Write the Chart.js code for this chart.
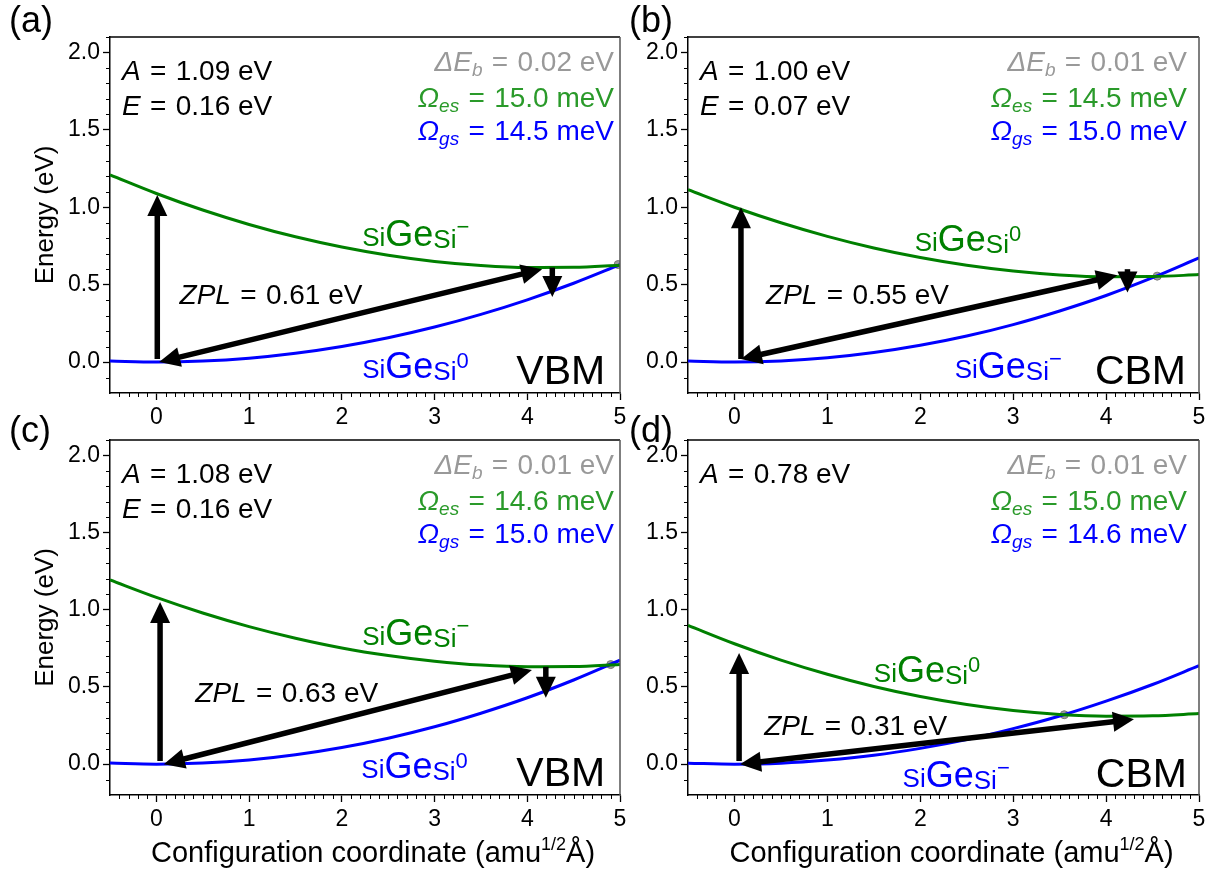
<!DOCTYPE html>
<html>
<head>
<meta charset="utf-8">
<script src="https://cdn.jsdelivr.net/npm/chart.js@4.4.0/dist/chart.umd.min.js"></script>
<style>
  html, body { margin: 0; padding: 0; background: #fff; }
  body { width: 1214px; height: 874px; position: relative; overflow: hidden; }
  canvas { position: absolute; }
</style>
</head>
<body>
<script>
const FONT = '"Liberation Sans", Arial, Helvetica, sans-serif';
const GREEN = '#008000';
const BLUE = '#0000ff';
const TGREEN = '#2a9a2a';
const GREY = '#999999';
const EQ = '\u2004=\u2004';

// configuration coordinate (amu^1/2 Å) where the curves are sampled
const q = [-0.5, 0, 0.5, 1, 1.5, 2, 2.5, 3, 3.5, 4, 4.5, 5];

// energies (eV): gs = blue curve, es = green curve
const gsA = [0.006, 0.000, 0.006, 0.025, 0.057, 0.101, 0.157, 0.226, 0.308, 0.402, 0.509, 0.629];
const esA = [1.209, 1.089, 0.982, 0.889, 0.809, 0.743, 0.690, 0.650, 0.624, 0.611, 0.612, 0.626];
const gsB = [0.007, 0.000, 0.007, 0.027, 0.061, 0.108, 0.168, 0.242, 0.330, 0.430, 0.545, 0.673];
const esB = [1.113, 1.000, 0.900, 0.812, 0.737, 0.675, 0.625, 0.588, 0.563, 0.551, 0.552, 0.565];
const gsC = [0.007, 0.000, 0.007, 0.027, 0.061, 0.108, 0.168, 0.242, 0.330, 0.430, 0.545, 0.673];
const esC = [1.193, 1.080, 0.979, 0.891, 0.816, 0.753, 0.704, 0.667, 0.642, 0.631, 0.632, 0.646];
const gsD = [0.006, 0.000, 0.006, 0.026, 0.057, 0.102, 0.159, 0.230, 0.312, 0.408, 0.516, 0.638];
const esD = [0.899, 0.780, 0.674, 0.582, 0.503, 0.438, 0.386, 0.347, 0.322, 0.311, 0.313, 0.328];

// crossing points [Q, E]
const crossA = [4.98, 0.630];
const crossB = [4.55, 0.555];
const crossC = [4.90, 0.645];
const crossD = [3.55, 0.320];

// arrows: [Q1, E1, Q2, E2, head at start, head at end]
const arrowsA = [[0.01, 0.02, 0.01, 1.08, 0, 1], [0.03, 0.00, 4.16, 0.60, 1, 1], [4.27, 0.61, 4.27, 0.42, 0, 1]];
const arrowsB = [[0.07, 0.02, 0.07, 1.00, 0, 1], [0.07, 0.02, 4.12, 0.56, 1, 1], [4.23, 0.60, 4.23, 0.45, 0, 1]];
const arrowsC = [[0.04, 0.02, 0.04, 1.05, 0, 1], [0.08, 0.00, 4.05, 0.61, 1, 1], [4.20, 0.63, 4.20, 0.43, 0, 1]];
const arrowsD = [[0.05, 0.02, 0.05, 0.72, 0, 1], [0.06, 0.00, 4.30, 0.29, 1, 1]];

// text values
const panelNames = ['(a)', '(b)', '(c)', '(d)'];
const aVals = ['1.09', '1.00', '1.08', '0.78'];
const eVals = ['0.16', '0.07', '0.16', null];
const dEbVals = ['0.02', '0.01', '0.01', '0.01'];
const wEsVals = ['15.0', '14.5', '14.6', '15.0'];
const wGsVals = ['14.5', '15.0', '15.0', '14.6'];
const zplVals = ['0.61', '0.55', '0.63', '0.31'];
const bandEdge = ['VBM', 'CBM', 'VBM', 'CBM'];
const esCharge = ['\u2212', '0', '\u2212', '0'];
const gsCharge = ['0', '\u2212', '0', '\u2212'];

// tick labels
const xTicks = [0, 1, 2, 3, 4, 5];
const yTicks = [0, 0.5, 1, 1.5, 2];

// layout of the four panels (page pixels) and label anchors (data coords)
const layout = [
  { cv: { x: 0, y: 0, w: 640, h: 437 }, pad: { top: 37, right: 20 }, yW: 110, xH: 44, showY: true, showX: false,
    name: [9, 32], rOff: 6, esLab: [2.22, 0.75], gsLab: [2.22, -0.10], band: [4.84, -0.14], zpl: [0.25, 0.377] },
  { cv: { x: 630, y: 0, w: 584, h: 437 }, pad: { top: 37, right: 15 }, yW: 58, xH: 44, showY: false, showX: false,
    name: [629, 32], rOff: 12, esLab: [1.94, 0.72], gsLab: [2.37, -0.10], band: [4.86, -0.14], zpl: [0.34, 0.377] },
  { cv: { x: 0, y: 410, w: 640, h: 464 }, pad: { top: 30, right: 20 }, yW: 110, xH: 79, showY: true, showX: true,
    name: [9, 442], rOff: 6, esLab: [2.22, 0.77], gsLab: [2.21, -0.09], band: [4.84, -0.14], zpl: [0.42, 0.40] },
  { cv: { x: 630, y: 410, w: 584, h: 464 }, pad: { top: 30, right: 15 }, yW: 58, xH: 79, showY: false, showX: true,
    name: [629, 442], rOff: 12, esLab: [1.50, 0.53], gsLab: [1.81, -0.15], band: [4.87, -0.15], zpl: [0.32, 0.19] },
];
const curves = [[gsA, esA, crossA, arrowsA], [gsB, esB, crossB, arrowsB], [gsC, esC, crossC, arrowsC], [gsD, esD, crossD, arrowsD]];

function fontOf(p) {
  return (p.i ? 'italic ' : '') + (p.s || 28) + 'px ' + FONT;
}
function richWidth(ctx, parts) {
  let w = 0;
  for (const p of parts) { ctx.font = fontOf(p); w += ctx.measureText(p.t).width; }
  return w;
}
function drawRich(ctx, parts, x, y, align, color) {
  const w = richWidth(ctx, parts);
  let cx = align === 'right' ? x - w : align === 'center' ? x - w / 2 : x;
  ctx.textAlign = 'left';
  ctx.textBaseline = 'alphabetic';
  for (const p of parts) {
    ctx.font = fontOf(p);
    ctx.fillStyle = p.c || color;
    ctx.fillText(p.t, cx, y + (p.dy || 0));
    cx += ctx.measureText(p.t).width;
  }
}

function drawArrow(ctx, x1, y1, x2, y2, hs, he) {
  const HL = 21, HW = 10;
  const ang = Math.atan2(y2 - y1, x2 - x1);
  const c = Math.cos(ang), s = Math.sin(ang);
  let sx1 = x1, sy1 = y1, sx2 = x2, sy2 = y2;
  if (hs) { sx1 = x1 + c * HL * 0.8; sy1 = y1 + s * HL * 0.8; }
  if (he) { sx2 = x2 - c * HL * 0.8; sy2 = y2 - s * HL * 0.8; }
  ctx.strokeStyle = '#000';
  ctx.fillStyle = '#000';
  ctx.lineWidth = 5.5;
  ctx.lineCap = 'butt';
  ctx.beginPath();
  ctx.moveTo(sx1, sy1);
  ctx.lineTo(sx2, sy2);
  ctx.stroke();
  const head = (tx, ty, dc, ds) => {
    const bx = tx - dc * HL, by = ty - ds * HL;
    ctx.beginPath();
    ctx.moveTo(tx, ty);
    ctx.lineTo(bx - ds * HW, by + dc * HW);
    ctx.lineTo(bx + ds * HW, by - dc * HW);
    ctx.closePath();
    ctx.fill();
  };
  if (he) head(x2, y2, c, s);
  if (hs) head(x1, y1, -c, -s);
}

function decor(idx) {
  const L = layout[idx];
  const arrows = curves[idx][3];
  return {
    id: 'decor' + idx,
    afterDraw(chart) {
      const { ctx, chartArea: a, scales: { x, y } } = chart;
      const X = v => x.getPixelForValue(v);
      const Y = v => y.getPixelForValue(v);
      ctx.save();

      // minor ticks
      ctx.strokeStyle = '#000';
      ctx.lineWidth = 1;
      ctx.beginPath();
      for (let k = -4; k <= 50; k++) {
        if (k % 10 === 0) continue;
        const px = Math.round(X(k / 10)) + 0.5;
        ctx.moveTo(px, a.bottom);
        ctx.lineTo(px, a.bottom + 4);
      }
      for (let k = -1; k <= 21; k++) {
        if (k % 5 === 0) continue;
        const py = Math.round(Y(k / 10)) + 0.5;
        ctx.moveTo(a.left, py);
        ctx.lineTo(a.left - 4, py);
      }
      ctx.stroke();

      // top and right spines
      ctx.lineWidth = 1.5;
      ctx.strokeStyle = '#000';
      ctx.beginPath();
      ctx.moveTo(a.left, a.top);
      ctx.lineTo(a.right, a.top);
      ctx.stroke();
      ctx.strokeStyle = '#555';
      ctx.beginPath();
      ctx.moveTo(a.right, a.top);
      ctx.lineTo(a.right, a.bottom);
      ctx.stroke();

      // arrows
      for (const ar of arrows) {
        drawArrow(ctx, X(ar[0]), Y(ar[1]), X(ar[2]), Y(ar[3]), ar[4], ar[5]);
      }

      // top-left texts
      drawRich(ctx, [{ t: 'A', i: 1 }, { t: EQ + aVals[idx] + ' eV' }], a.left + 12, a.top + 43, 'left', '#000');
      if (eVals[idx]) {
        drawRich(ctx, [{ t: 'E', i: 1 }, { t: EQ + eVals[idx] + ' eV' }], a.left + 12, a.top + 78, 'left', '#000');
      }
      // top-right texts
      const rx = a.right - L.rOff;
      drawRich(ctx, [{ t: '\u0394E', i: 1 }, { t: 'b', i: 1, s: 19, dy: 5 }, { t: EQ + dEbVals[idx] + ' eV' }], rx, a.top + 34, 'right', GREY);
      drawRich(ctx, [{ t: '\u03A9', i: 1 }, { t: 'es', i: 1, s: 19, dy: 5 }, { t: EQ + wEsVals[idx] + ' meV' }], rx, a.top + 70, 'right', TGREEN);
      drawRich(ctx, [{ t: '\u03A9', i: 1 }, { t: 'gs', i: 1, s: 19, dy: 5 }, { t: EQ + wGsVals[idx] + ' meV' }], rx, a.top + 103, 'right', BLUE);

      // ZPL
      drawRich(ctx, [{ t: 'ZPL', i: 1 }, { t: EQ + zplVals[idx] + ' eV' }], X(L.zpl[0]), Y(L.zpl[1]), 'left', '#000');

      // curve labels
      const supDy = c => (c === '0' ? -10 : -12);
      drawRich(ctx, [{ t: 'Si', s: 26 }, { t: 'Ge', s: 36 }, { t: 'Si', s: 26, dy: 2 }, { t: esCharge[idx], s: 22, dy: supDy(esCharge[idx]) }],
        X(L.esLab[0]), Y(L.esLab[1]), 'left', GREEN);
      drawRich(ctx, [{ t: 'Si', s: 26 }, { t: 'Ge', s: 36 }, { t: 'Si', s: 26, dy: 2 }, { t: gsCharge[idx], s: 22, dy: supDy(gsCharge[idx]) }],
        X(L.gsLab[0]), Y(L.gsLab[1]), 'left', BLUE);

      // band edge
      drawRich(ctx, [{ t: bandEdge[idx], s: 41 }], X(L.band[0]), Y(L.band[1]), 'right', '#000');

      // panel letter
      drawRich(ctx, [{ t: panelNames[idx], s: 36 }], L.name[0] - L.cv.x, L.name[1] - L.cv.y, 'left', '#000');

      // x-axis title
      if (L.showX) {
        drawRich(ctx, [{ t: 'Configuration coordinate (amu', s: 29 }, { t: '1/2', s: 18, dy: -12 }, { t: '\u00C5)', s: 29 }],
          (a.left + a.right) / 2 + 8, a.bottom + 67, 'center', '#000');
      }
      ctx.restore();
    }
  };
}

function makePanel(idx) {
  const L = layout[idx];
  const [gs, es, cross] = curves[idx];
  const cv = document.createElement('canvas');
  cv.width = L.cv.w;
  cv.height = L.cv.h;
  cv.style.left = L.cv.x + 'px';
  cv.style.top = L.cv.y + 'px';
  document.body.appendChild(cv);

  new Chart(cv, {
    type: 'line',
    data: {
      datasets: [
        { data: q.map((v, i) => ({ x: v, y: es[i] })), borderColor: GREEN, borderWidth: 3, pointRadius: 0, cubicInterpolationMode: 'monotone' },
        { data: q.map((v, i) => ({ x: v, y: gs[i] })), borderColor: BLUE, borderWidth: 3, pointRadius: 0, cubicInterpolationMode: 'monotone' },
        { type: 'scatter', data: [{ x: cross[0], y: cross[1] }], pointRadius: 4, backgroundColor: 'rgba(130,130,130,0.8)', borderColor: '#777', borderWidth: 1 },
      ],
    },
    options: {
      responsive: false,
      animation: false,
      events: [],
      layout: { padding: { top: L.pad.top, right: L.pad.right, left: 0, bottom: 0 } },
      plugins: { legend: { display: false }, tooltip: { enabled: false } },
      scales: {
        x: {
          type: 'linear', min: -0.5, max: 5,
          afterBuildTicks: s => { s.ticks = xTicks.map(v => ({ value: v })); },
          afterFit: s => { s.height = L.xH; },
          ticks: { font: { family: FONT, size: 23 }, color: '#000', padding: 4, maxRotation: 0, autoSkip: false, callback: v => String(v) },
          grid: { drawOnChartArea: false, tickLength: 7, tickColor: '#000', tickWidth: 1.3 },
          border: { color: '#000', width: 1.5 },
        },
        y: {
          type: 'linear', min: -0.2, max: 2.1,
          afterBuildTicks: s => { s.ticks = yTicks.map(v => ({ value: v })); },
          afterFit: s => { s.width = L.yW; },
          ticks: { font: { family: FONT, size: 23 }, color: '#000', padding: 3, autoSkip: false, callback: v => v.toFixed(1) },
          grid: { drawOnChartArea: false, tickLength: 7, tickColor: '#000', tickWidth: 1.3 },
          border: { color: '#000', width: 1.5 },
          title: L.showY
            ? { display: true, text: 'Energy (eV)', font: { family: FONT, size: 26 }, color: '#000', padding: { top: 30, bottom: 0 } }
            : { display: false },
        },
      },
    },
    plugins: [decor(idx)],
  });
}

[0, 1, 2, 3].forEach(makePanel);
</script>
</body>
</html>
